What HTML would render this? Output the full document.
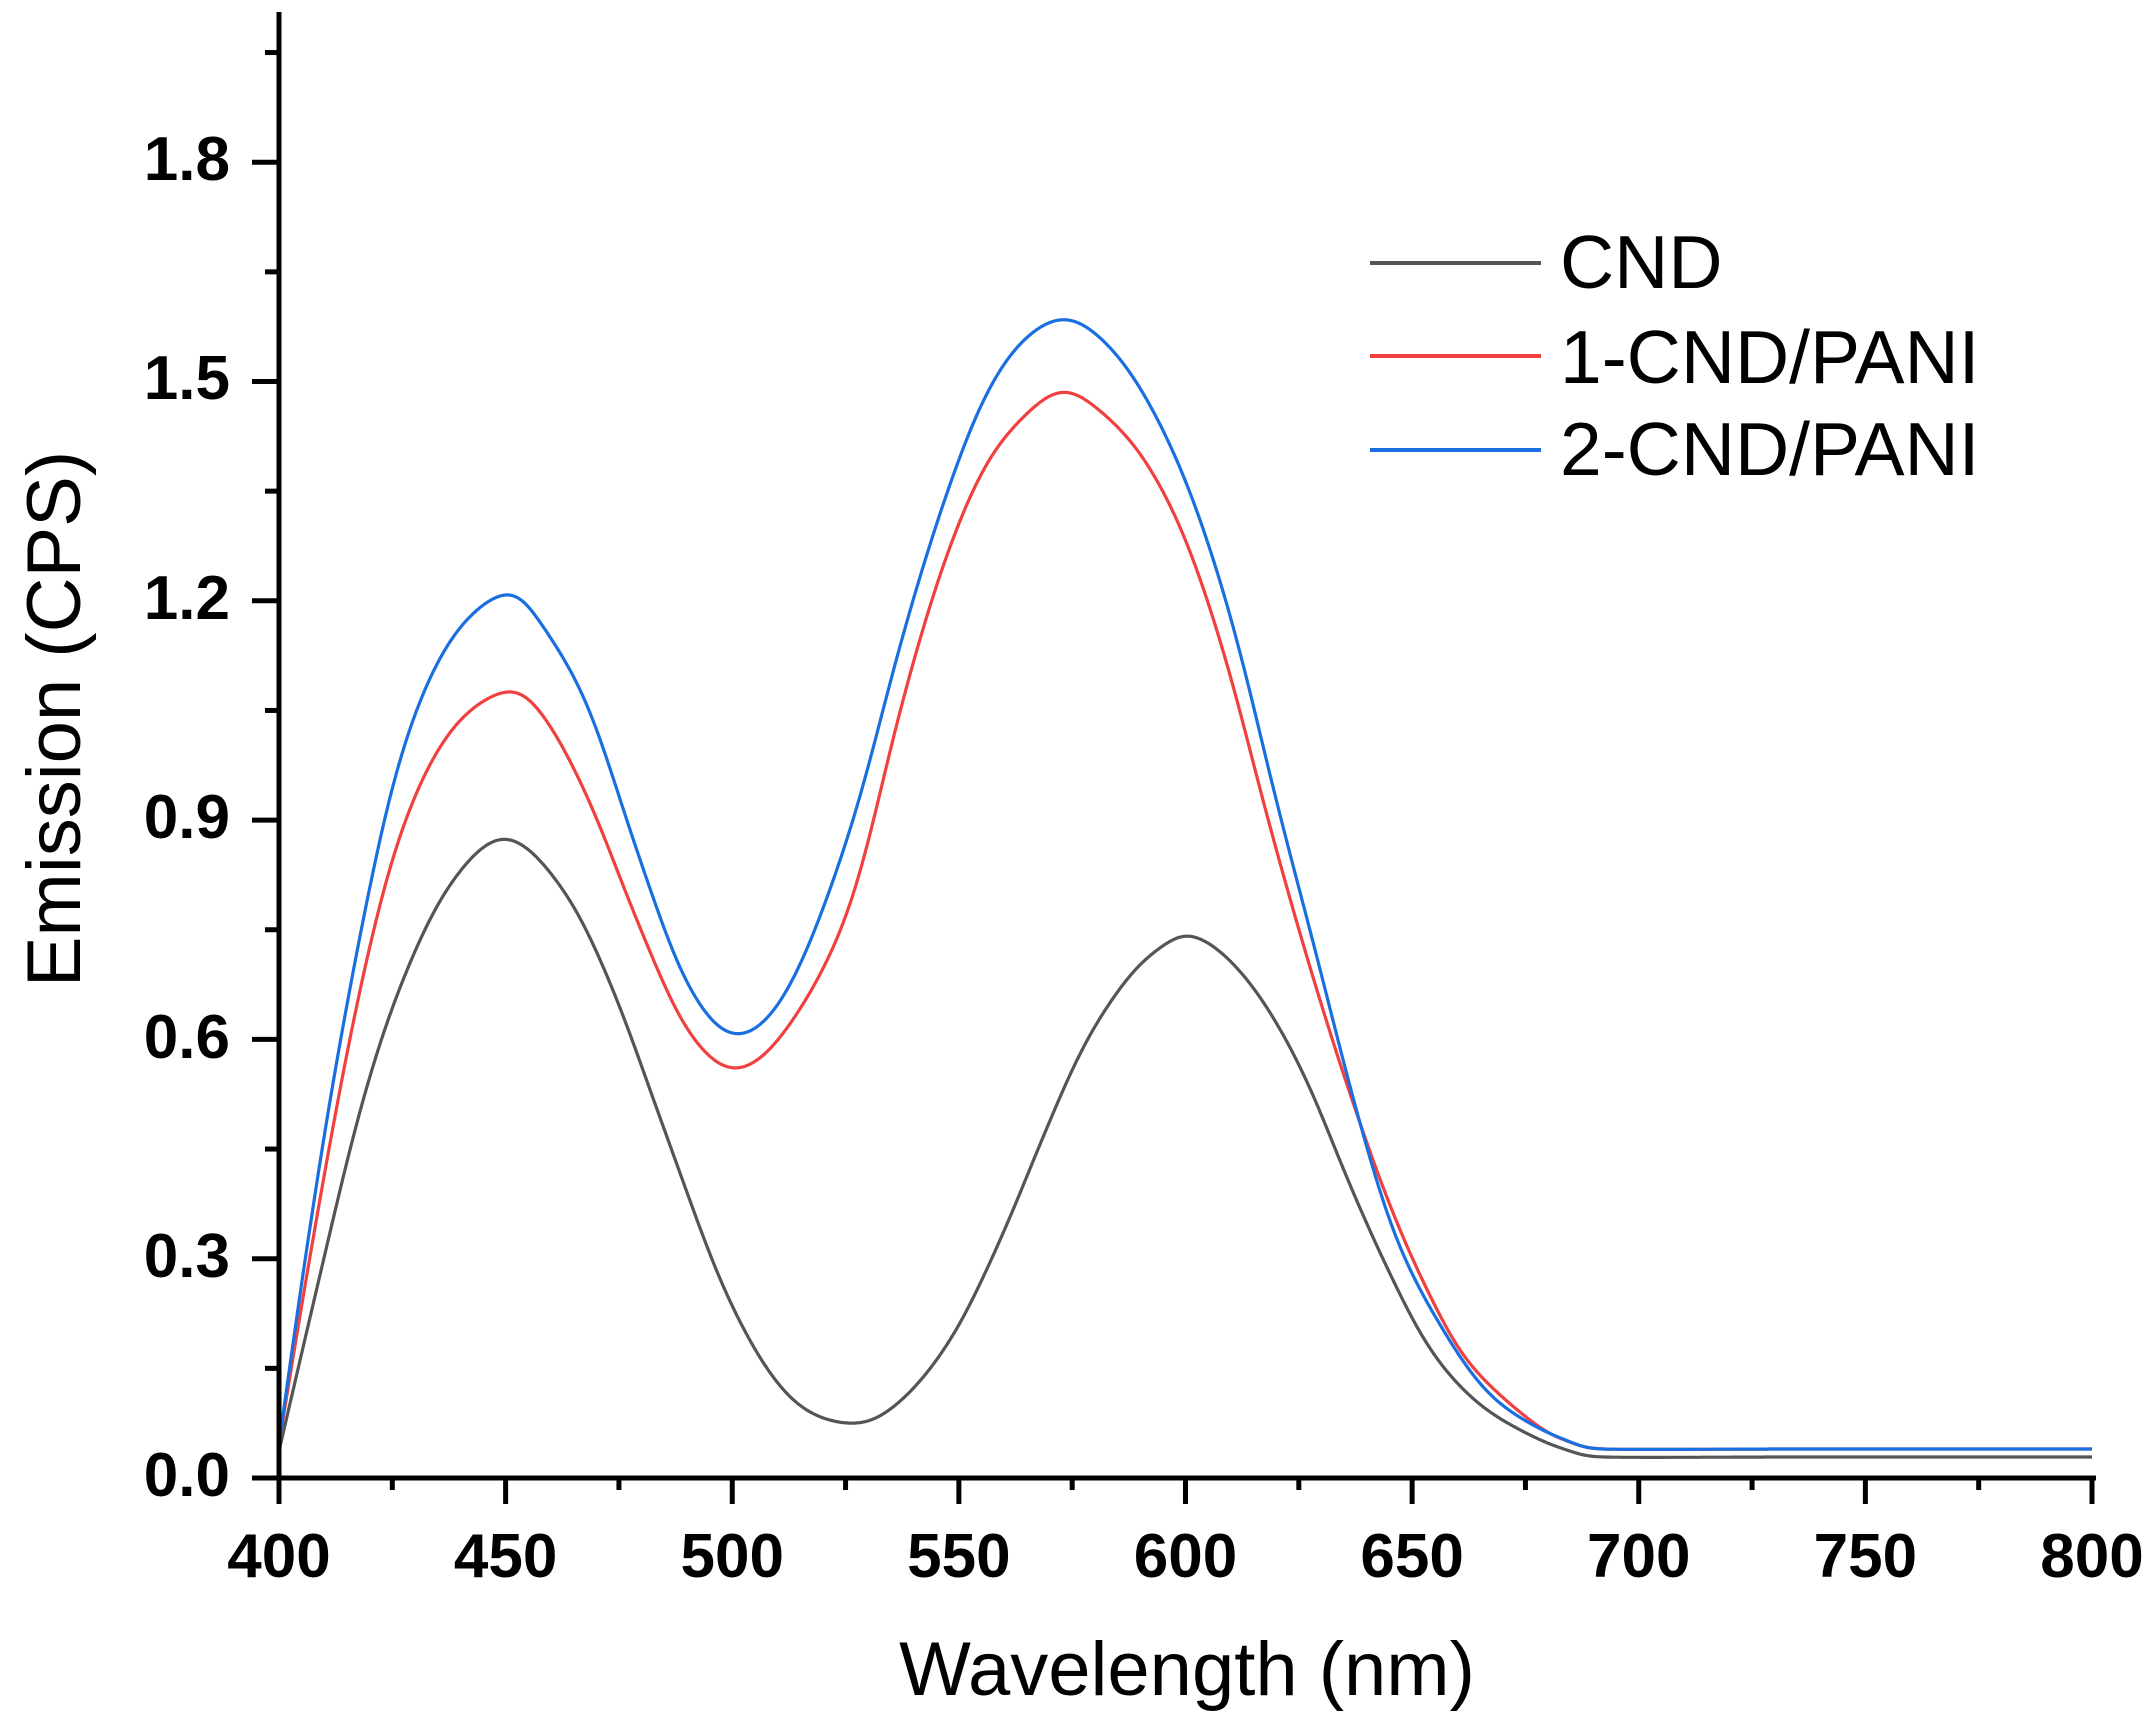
<!DOCTYPE html>
<html><head><meta charset="utf-8"><style>
html,body{margin:0;padding:0;background:#fff;}
svg{display:block;}
text{font-family:"Liberation Sans",Arial,sans-serif;fill:#000;}
</style></head><body>
<svg id="s" width="2152" height="1727" viewBox="0 0 2152 1727" xmlns="http://www.w3.org/2000/svg">
<g id="ticks" stroke="#000" stroke-width="5"></g>
<g id="curves" fill="none" stroke-width="3.2" stroke-linejoin="round"></g>
<line x1="279" y1="12" x2="279" y2="1481" stroke="#000" stroke-width="5"/>
<line x1="276" y1="1478" x2="2096" y2="1478" stroke="#000" stroke-width="5"/>
<g font-weight="bold" font-size="62" text-anchor="end">
<text x="230" y="1496">0.0</text>
<text x="230" y="1277">0.3</text>
<text x="230" y="1058">0.6</text>
<text x="230" y="838">0.9</text>
<text x="230" y="619">1.2</text>
<text x="230" y="399">1.5</text>
<text x="230" y="180">1.8</text>
</g>
<g font-weight="bold" font-size="62" text-anchor="middle" id="xl"></g>
<text x="1187" y="1695" font-size="76" text-anchor="middle">Wavelength (nm)</text>
<text transform="translate(80,719) rotate(-90)" font-size="76" text-anchor="middle">Emission (CPS)</text>
<line x1="1370" y1="263" x2="1541" y2="263" stroke="#555" stroke-width="4"/>
<line x1="1370" y1="356" x2="1541" y2="356" stroke="#f04040" stroke-width="4"/>
<line x1="1370" y1="450" x2="1541" y2="450" stroke="#1a6fe0" stroke-width="4"/>
<g font-size="75"><text x="1560" y="288">CND</text><text x="1560" y="383">1-CND/PANI</text><text x="1560" y="475">2-CND/PANI</text></g>
</svg>
<script>
var NS="http://www.w3.org/2000/svg";
function el(p,t,a){var e=document.createElementNS(NS,t);for(var k in a)e.setAttribute(k,a[k]);p.appendChild(e);return e;}
var tk=document.getElementById('ticks'),xl=document.getElementById('xl');
var px=(2092-279)/400;
for(var i=0;i<=16;i++){var x=279+i*25*px;var L=(i%2==0)?26:12;el(tk,'line',{x1:x,y1:1478,x2:x,y2:1478+L});
 if(i%2==0){var t=el(xl,'text',{x:x,y:1577});t.textContent=400+i*25;}}
for(var j=0;j<=13;j++){var y=1478-j*109.65;var L=(j%2==0)?27:14;el(tk,'line',{x1:279-L,y1:y,x2:279,y2:y});}
function dense(pts){var out=[];
 for(var i=0;i<pts.length-1;i++){var p0=pts[Math.max(0,i-1)],p1=pts[i],p2=pts[i+1],p3=pts[Math.min(pts.length-1,i+2)];
  for(var s=0;s<40;s++){var t=s/40,t2=t*t,t3=t2*t;
   var f=function(a,b,c,d){return 0.5*((2*b)+(-a+c)*t+(2*a-5*b+4*c-d)*t2+(-a+3*b-3*c+d)*t3);};
   out.push([f(p0[0],p1[0],p2[0],p3[0]),f(p0[1],p1[1],p2[1],p3[1])]);}}
 out.push(pts[pts.length-1]);return out;}
function build(pts,sig){var d=dense(pts);var xs=[],ys=[];var k=0;
 for(var x=pts[0][0];x<=pts[pts.length-1][0];x++){while(k<d.length-2&&d[k+1][0]<x)k++;
  var a=d[k],b=d[k+1];var y=b[0]==a[0]?a[1]:a[1]+(b[1]-a[1])*(x-a[0])/(b[0]-a[0]);xs.push(x);ys.push(y);}
 var sm=[];var n=ys.length;
 for(var i=0;i<n;i++){var s=sig;if(i<3*sig)s=Math.max(0.5,i/3);var W=0,S=0;var r=Math.ceil(3*s);
  for(var j=-r;j<=r;j++){var q=i+j;if(q<0||q>=n)continue;var w=Math.exp(-j*j/(2*s*s));W+=w;S+=w*ys[q];}sm.push(S/W);}
 var dd='M'+xs[0]+','+sm[0].toFixed(1);for(var i=1;i<n;i++)dd+=' L'+xs[i]+','+sm[i].toFixed(1);return dd;}
var cnd=[[279,1451],[320,1275],[361,1106],[401,984],[450,884],[506,837],[565,892],[614,992],[667,1137],[728,1298],[789,1397],[852,1424],[900,1402],[953,1336],[1002,1236],[1043,1137],[1084,1045],[1129,976],[1165,944],[1190,934],[1227,957],[1267,1007],[1308,1083],[1349,1183],[1390,1274],[1431,1351],[1480,1405],[1540,1440],[1575,1452],[1600,1457],[1800,1457],[2092,1457]];
var red=[[279,1443],[320,1198],[361,984],[401,831],[450,731],[508,690],[544,716],[589,800],[638,923],[687,1030],[736,1070],[789,1026],[850,907],[900,710],[941,571],[982,471],[1022,418],[1063,390],[1104,414],[1145,460],[1186,540],[1227,663],[1267,816],[1308,961],[1349,1091],[1390,1206],[1431,1298],[1471,1366],[1540,1428],[1575,1443],[1600,1449],[1800,1449],[2092,1449]];
var blue=[[279,1443],[320,1160],[361,930],[401,754],[450,640],[508,592],[544,628],[589,708],[638,854],[687,984],[736,1036],[789,988],[850,831],[900,645],[941,510],[982,402],[1022,341],[1067,318],[1112,349],[1153,410],[1194,502],[1235,632],[1276,800],[1316,953],[1357,1113],[1398,1244],[1451,1343],[1492,1397],[1540,1429],[1575,1443],[1600,1449],[1800,1449],[2092,1449]];
var g=document.getElementById('curves');
el(g,'path',{d:build(cnd,11),stroke:'#555'});
el(g,'path',{d:build(red,11),stroke:'#f04040'});
el(g,'path',{d:build(blue,11),stroke:'#1a6fe0'});
</script>
</body></html>
